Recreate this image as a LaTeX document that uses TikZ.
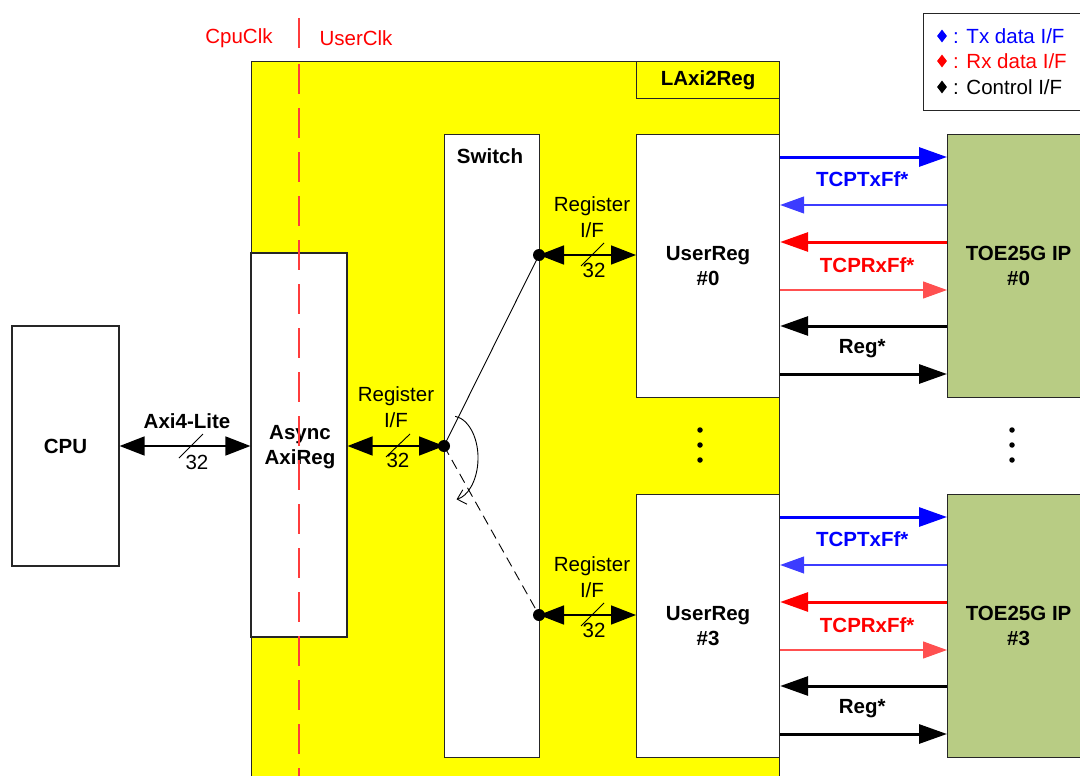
\documentclass[tikz,border=0pt]{standalone}
\usepackage{fontspec}
\setmainfont{Liberation Sans}
\usetikzlibrary{arrows.meta,calc,shapes.geometric}
\definecolor{toegreen}{RGB}{184,204,132}
\definecolor{laxyellow}{RGB}{255,255,0}
\definecolor{clkred}{RGB}{255,60,60}
\definecolor{thinblue}{RGB}{60,60,255}
\definecolor{thinred}{RGB}{255,80,80}
\begin{document}
\begin{tikzpicture}[x=1pt,y=-1pt,
  every node/.append style={font=\fontsize{20.5}{25.5}\selectfont},
  box/.style={draw=black!85, line width=1.2pt, fill=white, inner sep=0pt},
  ybox/.style={draw=black!85, line width=1.2pt, fill=laxyellow, inner sep=0pt},
  gbox/.style={draw=black!85, line width=1.2pt, fill=toegreen, inner sep=0pt},
  lbl/.style={align=center, inner sep=0pt},
  blbl/.style={align=center, inner sep=0pt, font=\fontsize{20.5}{25.5}\selectfont\bfseries},
  bigdot/.style={circle, fill=black, inner sep=0pt, minimum size=12pt},
  smalldot/.style={circle, fill=black, inner sep=0pt, minimum size=5.5pt},
  diam/.style={diamond, inner sep=0pt, minimum width=10pt, minimum height=13pt},
  thickarr/.style={line width=3pt, -{Triangle[length=28pt,width=19pt]}},
  thinarr/.style={line width=1.2pt, -{Triangle[length=24pt,width=17pt]}},
  busarr/.style={line width=1.6pt, {Triangle[length=25pt,width=19pt]}-{Triangle[length=25pt,width=19pt]}},
  slash/.style={line width=0.9pt}
]
\useasboundingbox (0,0) rectangle (1080,776);
\clip (0,0) rectangle (1080,776);

% LAxi2Reg yellow block
\node[ybox, anchor=north west, minimum width=528pt, minimum height=760pt] (lax) at (251,61) {};
\node[ybox, anchor=north west, minimum width=143pt, minimum height=37pt,
      font=\fontsize{20.5}{25.5}\selectfont\bfseries] (laxlbl) at (636,61) {LAxi2Reg};

% clock domain labels
\node[lbl, text=red] (cpuclk) at (239,38) {CpuClk};
\node[lbl, text=red] (userclk) at (356,38) {UserClk};
\coordinate (clktop) at (299,18);
\coordinate (clkbot) at (299,48);
\draw[clkred, line width=2pt] (clktop) -- (clkbot);

% legend
\node[box, anchor=north west, minimum width=175pt, minimum height=97pt] (legend) at (923,13) {};
\node[diam, fill=blue] (dtx) at (942,36) {};
\node[lbl, anchor=west, text=blue] (ltx) at (953,36) {: Tx data I/F};
\node[diam, fill=red] (drx) at (942,61) {};
\node[lbl, anchor=west, text=red] (lrx) at (953,61) {: Rx data I/F};
\node[diam, fill=black] (dct) at (942,87) {};
\node[lbl, anchor=west] (lct) at (953,87) {: Control I/F};

% CPU
\node[box, minimum width=107pt, minimum height=240pt, font=\fontsize{20.5}{25.5}\selectfont\bfseries] (cpu) at (65.5,446) {CPU};

% Async AxiReg
\node[box, minimum width=96pt, minimum height=384pt] (async) at (299,445) {};
\node[blbl] (asynclbl) at (300,447) {Async\\AxiReg};

% Switch
\node[box, anchor=north west, minimum width=95pt, minimum height=623pt] (switch) at (444,134) {};
\node[blbl] (swlbl) at (490,156) {Switch};

% UserReg blocks
\node[box, anchor=north west, minimum width=143pt, minimum height=263pt, align=center,
      font=\fontsize{20.5}{25.5}\selectfont\bfseries] (ur0) at (636,134) {UserReg\\\#0};
\node[box, anchor=north west, minimum width=143pt, minimum height=263pt, align=center,
      font=\fontsize{20.5}{25.5}\selectfont\bfseries] (ur3) at (636,494) {UserReg\\\#3};

% TOE25G IP blocks
\node[gbox, anchor=north west, minimum width=142pt, minimum height=263pt, align=center,
      font=\fontsize{20.5}{25.5}\selectfont\bfseries] (toe0) at (947,134) {TOE25G IP\\\#0};
\node[gbox, anchor=north west, minimum width=142pt, minimum height=263pt, align=center,
      font=\fontsize{20.5}{25.5}\selectfont\bfseries] (toe3) at (947,494) {TOE25G IP\\\#3};

% Axi4-Lite bus
\coordinate (axiL) at (cpu.east |- 0,446);
\coordinate (axiR) at (async.west |- 0,446);
\draw[busarr] (axiL) -- (axiR);
\node[blbl] (axilbl) at (187,421) {Axi4-Lite};
\coordinate (axs1) at (179,458);
\coordinate (axs2) at (203,434);
\draw[slash] (axs1) -- (axs2);
\node[lbl] (ax32) at (197,462) {32};

% Register I/F : Async -> Switch
\node[bigdot] (dsw) at (444,446) {};
\coordinate (regL) at (async.east |- 0,446);
\draw[busarr] (regL) -- (dsw.center);
\node[lbl] (reglbl) at (396,407) {Register\\I/F};
\coordinate (rs1) at (386,457);
\coordinate (rs2) at (410,434);
\draw[slash] (rs1) -- (rs2);
\node[lbl] (reg32) at (398,460) {32};

% Register I/F : Switch -> UserReg #0
\node[bigdot] (d0) at (539,255) {};
\coordinate (r0R) at (ur0.west |- 0,255);
\draw[busarr] (d0.center) -- (r0R);
\node[lbl] (r0lbl) at (592,217) {Register\\I/F};
\coordinate (r0s1) at (581,266);
\coordinate (r0s2) at (604,243);
\draw[slash] (r0s1) -- (r0s2);
\node[lbl] (r032) at (594,270) {32};

% Register I/F : Switch -> UserReg #3
\node[bigdot] (d3) at (539,615) {};
\coordinate (r3R) at (ur3.west |- 0,615);
\draw[busarr] (d3.center) -- (r3R);
\node[lbl] (r3lbl) at (592,577) {Register\\I/F};
\coordinate (r3s1) at (581,626);
\coordinate (r3s2) at (604,603);
\draw[slash] (r3s1) -- (r3s2);
\node[lbl] (r332) at (594,630) {32};

% switch contacts
\draw[line width=0.9pt] (dsw.center) -- (d0.center);
\draw[line width=0.9pt, dash pattern=on 10pt off 6pt] (dsw.center) -- (d3.center);
\coordinate (arcstart) at (455.2,416.3);
\draw[line width=0.9pt, -{Straight Barb[length=8pt,width=15pt]}]
  (arcstart) arc[start angle=-83, end angle=80, x radius=26, y radius=42];

% vertical ellipsis dots
\node[smalldot] (e1) at (700,430) {};
\node[smalldot] (e2) at (700,445) {};
\node[smalldot] (e3) at (700,460) {};
\node[smalldot] (f1) at (1012,430) {};
\node[smalldot] (f2) at (1012,445) {};
\node[smalldot] (f3) at (1012,460) {};

% UserReg <-> TOE interfaces
\foreach \u/\t in {ur0/toe0,ur3/toe3}{
  \coordinate (\u-a) at ($(\u.north east)+(0,23)$);
  \coordinate (\u-b) at ($(\u.north east)+(0,71)$);
  \coordinate (\u-c) at ($(\u.north east)+(0,108)$);
  \coordinate (\u-d) at ($(\u.north east)+(0,156)$);
  \coordinate (\u-e) at ($(\u.north east)+(0,192)$);
  \coordinate (\u-f) at ($(\u.north east)+(0,240)$);
  \draw[thickarr, blue] (\u-a) -- (\u-a -| \t.west);
  \draw[thinarr, thinblue] (\u-b -| \t.west) -- (\u-b);
  \draw[thickarr, red] (\u-c -| \t.west) -- (\u-c);
  \draw[thinarr, thinred] (\u-d) -- (\u-d -| \t.west);
  \draw[thickarr, black] (\u-e -| \t.west) -- (\u-e);
  \draw[thickarr, black] (\u-f) -- (\u-f -| \t.west);
  \node[blbl, text=blue] (\u-tx) at ($(\u.north east)+(82,45)$) {TCPTxFf*};
  \node[blbl, text=red] (\u-rx) at ($(\u.north east)+(87,131)$) {TCPRxFf*};
  \node[blbl] (\u-rg) at ($(\u.north east)+(82,215)$) {Reg*};
}

% clock boundary
\coordinate (dtop) at (299,64);
\coordinate (dbot) at (299,790);
\draw[clkred, line width=2.5pt, dash pattern=on 30pt off 14pt] (dtop) -- (dbot);
\end{tikzpicture}
\end{document}
